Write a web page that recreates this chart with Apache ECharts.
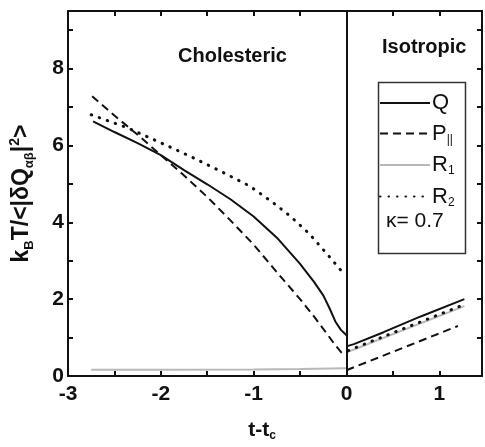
<!DOCTYPE html>
<html>
<head>
<meta charset="utf-8">
<script src="https://cdn.jsdelivr.net/npm/echarts@6/dist/echarts.min.js"></script>
<style>
  html, body { margin: 0; padding: 0; background: #fff; }
  #chart { width: 485px; height: 447px; }
</style>
</head>
<body>
<div id="chart"></div>
<script>
// values, [t - tc, kBT/<|dQ|^2>]
var qChol = [[-2.73, 6.63], [-2.5, 6.35], [-2.25, 6.06], [-2.0, 5.75], [-1.75, 5.36], [-1.5, 4.99],
  [-1.25, 4.6], [-1.0, 4.15], [-0.75, 3.6], [-0.5, 2.92], [-0.35, 2.45], [-0.25, 2.1],
  [-0.18, 1.75], [-0.12, 1.42], [-0.06, 1.2], [0, 1.06]];
var qIso = [[0, 0.77], [0.08, 0.83], [0.4, 1.14], [0.8, 1.55], [1.27, 2.0]];

var pChol = [[-2.74, 7.28], [-2.5, 6.78], [-2.25, 6.28], [-2.0, 5.75], [-1.75, 5.22], [-1.5, 4.66],
  [-1.25, 4.05], [-1.0, 3.42], [-0.75, 2.7], [-0.5, 2.0], [-0.35, 1.55], [-0.22, 1.13],
  [-0.12, 0.8], [-0.05, 0.6], [0, 0.55]];
var pIso = [[0, 0.15], [1.2, 1.3]];

var r1Chol = [[-2.75, 0.16], [-2.0, 0.16], [-1.0, 0.17], [-0.5, 0.18], [0, 0.2]];
var r1Iso = [[0, 0.62], [0.08, 0.69], [1.27, 1.82]];

var r2Chol = [[-2.75, 6.8], [-2.36, 6.46], [-2.0, 6.07], [-1.65, 5.68], [-1.29, 5.25], [-1.04, 4.94],
  [-0.79, 4.51], [-0.6, 4.15], [-0.4, 3.7], [-0.2, 3.15], [-0.06, 2.75], [-0.02, 2.65]];
var r2Iso = [[0.02, 0.66], [0.08, 0.72], [1.27, 1.86]];

var xTickLabels = [-3, -2, -1, 0, 1];
var yTickLabels = [0, 2, 4, 6, 8];

var FONT = "'Liberation Sans', Arial, sans-serif";
var INK = "#111";

// join the two phases with a gap at t = tc
function joined(a, b) {
  return a.concat([[0, null]], b);
}

var chartDom = document.getElementById("chart");
var myChart = echarts.init(chartDom);

var axisLine = { onZero: false, lineStyle: { color: INK, width: 2 } };
var axisTick = { inside: true, length: 5, lineStyle: { color: INK, width: 2 } };
var labelStyle = { fontFamily: FONT, fontSize: 21, fontWeight: "bold", color: INK };

var option = {
  animation: false,
  backgroundColor: "#fff",
  grid: { left: 67, top: 11, right: 1, bottom: 70 },
  legend: {
    orient: "vertical",
    left: 379,
    top: 92,
    itemWidth: 50,
    itemHeight: 14,
    itemGap: 7.5,
    padding: 0,
    itemStyle: { opacity: 0 },
    data: ["Q", "P", "R1", "R2"],
    formatter: function (name) {
      if (name === "P") return "{n|P}{s|||}";
      if (name === "R1") return "{n|R}{s|1}";
      if (name === "R2") return "{n|R}{s|2}";
      return "{n|Q}";
    },
    textStyle: {
      fontFamily: FONT,
      color: INK,
      padding: [0, 0, 0, -3],
      rich: {
        n: { fontFamily: FONT, fontSize: 22, color: INK, lineHeight: 24 },
        s: { fontFamily: FONT, fontSize: 12, color: INK, lineHeight: 24, verticalAlign: "bottom", padding: [12, 0, 0, 0] }
      }
    }
  },
  xAxis: [
    {
      type: "value",
      min: -3,
      max: 1.46,
      interval: 0.5,
      position: "bottom",
      axisLine: axisLine,
      axisTick: axisTick,
      splitLine: { show: false },
      axisLabel: Object.assign({
        margin: 8,
        formatter: function (v) { return xTickLabels.indexOf(v) >= 0 ? String(v) : ""; }
      }, labelStyle),
      name: "{m|t-t}{s|c}",
      nameLocation: "middle",
      nameGap: 42,
      nameTextStyle: {
        padding: [0, 26, 0, 0],
        rich: {
          m: { fontFamily: FONT, fontSize: 21, fontWeight: "bold", color: INK, lineHeight: 24 },
          s: { fontFamily: FONT, fontSize: 12, fontWeight: "bold", color: INK, lineHeight: 24, verticalAlign: "bottom", padding: [12, 0, 0, 0] }
        }
      }
    },
    {
      type: "value",
      min: -3,
      max: 1.46,
      interval: 0.5,
      position: "top",
      axisLine: axisLine,
      axisTick: axisTick,
      splitLine: { show: false },
      axisLabel: { show: false }
    }
  ],
  yAxis: [
    {
      type: "value",
      min: 0,
      max: 9.5,
      interval: 1,
      position: "left",
      axisLine: axisLine,
      axisTick: axisTick,
      splitLine: { show: false },
      axisLabel: Object.assign({
        margin: 4,
        formatter: function (v) { return yTickLabels.indexOf(v) >= 0 ? String(v) : ""; }
      }, labelStyle),
      name: "{m|k}{s|B}{m|T/<|\u03b4Q}{s|\u03b1\u03b2}{m||}{p|2}{m|>}",
      nameLocation: "middle",
      nameGap: 32,
      nameTextStyle: {
        rich: {
          m: { fontFamily: FONT, fontSize: 23, fontWeight: "bold", color: INK, lineHeight: 28 },
          s: { fontFamily: FONT, fontSize: 13, fontWeight: "bold", color: INK, lineHeight: 28, verticalAlign: "bottom", padding: [13, 0, 0, 0] },
          p: { fontFamily: FONT, fontSize: 14, fontWeight: "bold", color: INK, lineHeight: 28, verticalAlign: "top", padding: [0, 0, 11, 0] }
        }
      }
    },
    {
      type: "value",
      min: 0,
      max: 9.5,
      interval: 1,
      position: "right",
      axisLine: axisLine,
      axisTick: axisTick,
      splitLine: { show: false },
      axisLabel: { show: false }
    }
  ],
  graphic: [
    {
      type: "text",
      left: 178,
      top: 46,
      style: { text: "Cholesteric", fontFamily: FONT, fontSize: 20, fontWeight: "bold", fill: INK }
    },
    {
      type: "text",
      left: 382,
      top: 37,
      style: { text: "Isotropic", fontFamily: FONT, fontSize: 20, fontWeight: "bold", fill: INK }
    },
    {
      type: "rect",
      left: 376,
      top: 80,
      shape: { width: 87, height: 171 },
      style: { fill: "none", stroke: "#333", lineWidth: 1.5 }
    },
    {
      type: "text",
      left: 386,
      top: 211,
      style: { text: "\u03ba= 0.7", fontFamily: FONT, fontSize: 21, fill: INK }
    }
  ],
  series: [
    {
      name: "R1",
      type: "line",
      data: joined(r1Chol, r1Iso),
      symbol: "none",
      lineStyle: { color: "#b8b8b8", width: 2 },
      itemStyle: { color: "#b8b8b8" }
    },
    {
      name: "R2",
      type: "line",
      data: joined(r2Chol, r2Iso),
      symbol: "none",
      lineStyle: { color: INK, width: 3, type: [0.5, 8], cap: "round" },
      itemStyle: { color: INK }
    },
    {
      name: "P",
      type: "line",
      data: joined(pChol, pIso),
      symbol: "none",
      lineStyle: { color: INK, width: 2, type: [8, 5] },
      itemStyle: { color: INK }
    },
    {
      name: "Q",
      type: "line",
      data: joined(qChol, qIso),
      symbol: "none",
      lineStyle: { color: INK, width: 2 },
      itemStyle: { color: INK },
      markLine: {
        silent: true,
        symbol: ["none", "none"],
        label: { show: false },
        lineStyle: { color: INK, type: "solid", width: 2 },
        data: [{ xAxis: 0 }]
      }
    }
  ]
};

option && myChart.setOption(option);
</script>
</body>
</html>
